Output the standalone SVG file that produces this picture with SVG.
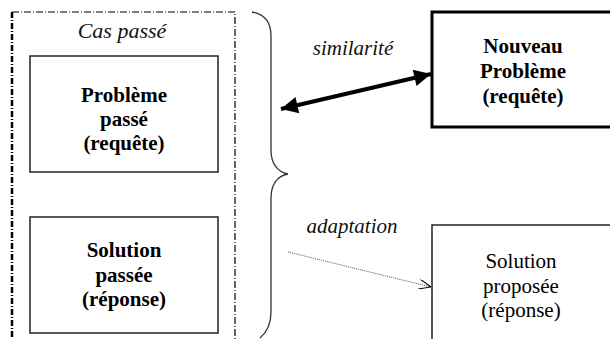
<svg xmlns="http://www.w3.org/2000/svg" width="610" height="339" viewBox="0 0 610 339">
  <style>
    text { font-family: 'Liberation Serif', Times, serif; }
    .box { fill: #fff; stroke: #222; stroke-width: 1.5; }
    .boxThick { fill: #fff; stroke: #000; stroke-width: 3; }
    .bold { font-size: 21px; font-weight: bold; fill: #000; text-anchor: middle; }
    .reg { font-size: 21px; fill: #000; text-anchor: middle; }
    .ital { font-size: 21px; font-style: italic; fill: #111; text-anchor: middle; }
  </style>
  <defs>
    <marker id="solidHead" viewBox="0 0 10 10" refX="10" refY="5" markerWidth="4.8" markerHeight="4.2" orient="auto-start-reverse" markerUnits="strokeWidth">
      <path d="M0,0 L10,5 L0,10 Z" fill="#000"/>
    </marker>
    <marker id="openHead" viewBox="0 0 12 10" refX="12" refY="5" markerWidth="12" markerHeight="10" orient="auto" markerUnits="userSpaceOnUse">
      <path d="M0,0 L12,5 L0,10" fill="none" stroke="#000" stroke-width="1"/>
    </marker>
  </defs>

  <rect width="610" height="339" fill="#fff"/>

  <!-- past case frame -->
  <g id="cas-passe">
    <path d="M12,12 H235 V345" fill="none" stroke="#000" stroke-width="1.2" stroke-dasharray="7 2 1 2"/>
    <path d="M12,12 V345" fill="none" stroke="#000" stroke-width="2.5" stroke-dasharray="6 2 1 2"/>
    <text class="ital" x="122" y="38" style="font-size:22px">Cas passé</text>
  </g>

  <g id="probleme-passe">
    <rect class="box" x="30" y="56" width="188" height="116"/>
    <text class="bold" x="124" y="102">Problème</text>
    <text class="bold" x="124" y="126">passé</text>
    <text class="bold" x="124" y="150">(requête)</text>
  </g>

  <g id="solution-passee">
    <rect class="box" x="30" y="217" width="188" height="116"/>
    <text class="bold" x="124" y="257">Solution</text>
    <text class="bold" x="124" y="282">passée</text>
    <text class="bold" x="124" y="306">(réponse)</text>
  </g>

  <!-- curly brace grouping the past case -->
  <g id="accolade">
    <path d="M252,12 C264,14 271,22 271,36 L271,150 C271,163 277,172 288,174 C277,176 271,185 271,198 L271,312 C271,326 266,333 260,338" fill="none" stroke="#333" stroke-width="1.3"/>
  </g>

  <g id="nouveau-probleme">
    <rect class="boxThick" x="432" y="12" width="190" height="115"/>
    <text class="bold" x="523" y="53">Nouveau</text>
    <text class="bold" x="523" y="78">Problème</text>
    <text class="bold" x="523" y="103">(requête)</text>
  </g>

  <g id="solution-proposee">
    <rect class="box" x="432" y="225" width="190" height="130"/>
    <text class="reg" x="521" y="268">Solution</text>
    <text class="reg" x="521" y="293">proposée</text>
    <text class="reg" x="521" y="317">(réponse)</text>
  </g>

  <!-- connectors -->
  <g id="connecteurs">
    <line x1="281" y1="109" x2="431" y2="74" stroke="#000" stroke-width="4" marker-start="url(#solidHead)" marker-end="url(#solidHead)"/>
    <text class="ital" x="353" y="55">similarité</text>
    <line x1="288" y1="252" x2="431" y2="287" stroke="#555" stroke-width="1" stroke-dasharray="1 1" marker-end="url(#openHead)"/>
    <text class="ital" x="352" y="233">adaptation</text>
  </g>
</svg>
